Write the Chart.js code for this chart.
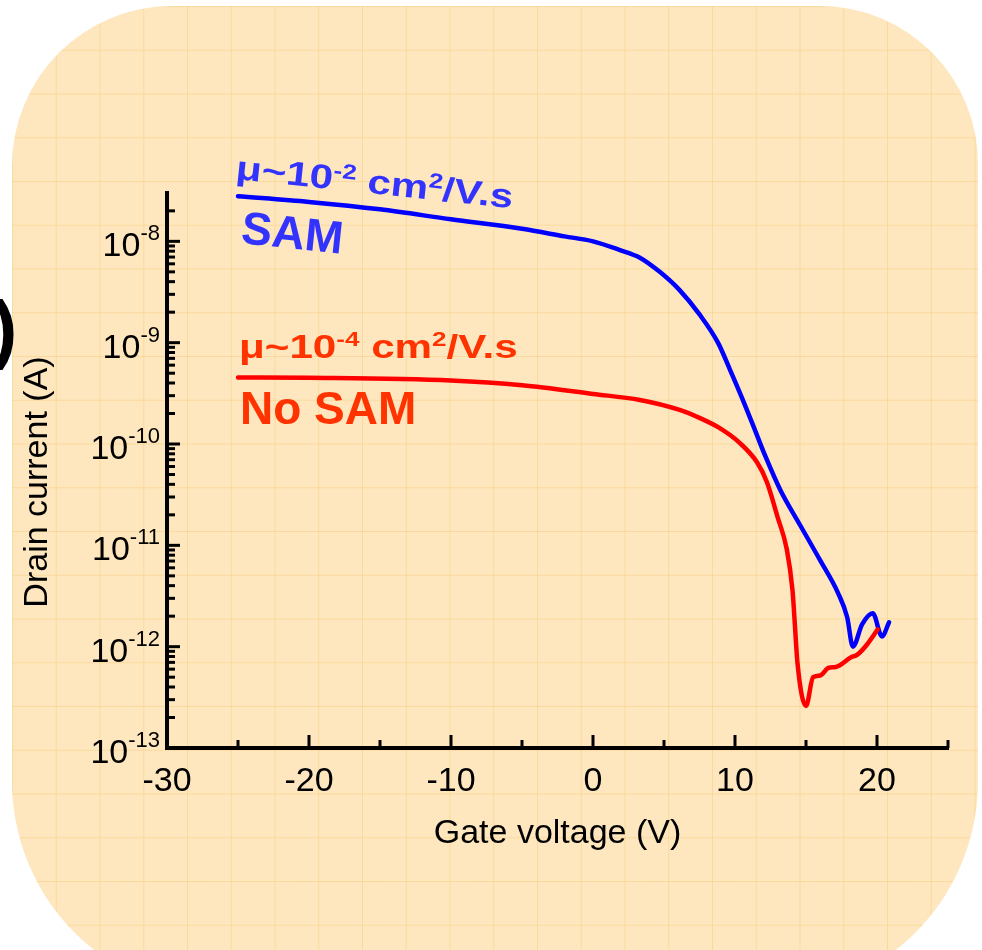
<!DOCTYPE html>
<html><head><meta charset="utf-8">
<script src="https://cdn.jsdelivr.net/npm/chart.js@4.4.1/dist/chart.umd.min.js"></script>
<style>
html,body{margin:0;padding:0;width:982px;height:950px;overflow:hidden;background:#fff;}
#bg{position:absolute;left:12px;top:6px;width:966px;height:990px;border-radius:160px 158px 215px 215px;
background-color:#FEE7BE;
background-image:linear-gradient(to right, rgba(245,200,110,0.42) 1px, transparent 1px), linear-gradient(to bottom, rgba(245,200,110,0.42) 1px, transparent 1px);
background-size:43.75px 43.75px;}
#c{position:absolute;left:0;top:0;}
</style></head><body>
<div id="bg"></div>
<canvas id="c" width="982" height="950"></canvas>
<script>
// ---- data ----
const gateVoltageSAM = [-25,-20,-15,-10,-5,-2,0,1.9,3.3,4.7,6.1,7.5,8.8,9.65,10.55,11.4,12.1,13.2,14.6,16.0,17.25,17.9,18.3,18.95,19.7,20.35,20.85];
const drainCurrentSAM = [2.79e-8,2.45e-8,2.07e-8,1.65e-8,1.33e-8,1.12e-8,1.0e-8,8.2e-9,6.9e-9,5.0e-9,3.3e-9,1.9e-9,1.0e-9,5.4e-10,2.73e-10,1.38e-10,7.8e-11,3.5e-11,1.57e-11,7.1e-12,3.4e-12,1.95e-12,1.0e-12,1.66e-12,2.14e-12,1.26e-12,1.74e-12];
const gateVoltageNoSAM = [-25,-20,-10,-5,0,3.3,6.1,7.5,8.9,10.35,11.55,12.25,13.0,13.65,14.05,14.2,14.4,15.0,15.5,16.0,16.6,17.1,18.2,18.6,19.3,20.05];
const drainCurrentNoSAM = [4.53e-10,4.5e-10,4.23e-10,3.8e-10,3.12e-10,2.72e-10,2.17e-10,1.81e-10,1.44e-10,1.02e-10,6.6e-11,4.2e-11,1.9e-11,9.1e-12,3.6e-12,1.8e-12,6.9e-13,2.6e-13,5.0e-13,5.2e-13,6.2e-13,6.3e-13,7.9e-13,8.3e-13,1.05e-12,1.48e-12];
const xMajorTicks = [-30,-20,-10,0,10,20];
const xMinorTicks = [-25,-15,-5,5,15,25];
const xTickLabels = ['-30','-20','-10','0','10','20'];
const yDecadeExponents = [-13,-12,-11,-10,-9,-8];
const yTickLabels = ['-13','-12','-11','-10','-9','-8'];
const yMinorMultipliers = [2,3,4,5,6,7,8,9];
const xTitle = 'Gate voltage (V)';
const yTitle = 'Drain current (A)';

const FONT = '"Liberation Sans", Arial, sans-serif';

function drawRich(ctx, parts, x, y, angle, sx, color, alignRight) {
  ctx.save();
  ctx.translate(x, y);
  ctx.rotate(angle);
  ctx.scale(sx, 1);
  ctx.fillStyle = color;
  ctx.textBaseline = 'alphabetic';
  ctx.textAlign = 'left';
  let total = 0;
  for (const p of parts) { ctx.font = p.font; total += ctx.measureText(p.t).width; }
  let cx = alignRight ? -total : 0;
  for (const p of parts) {
    ctx.font = p.font;
    ctx.fillText(p.t, cx, p.dy || 0);
    cx += ctx.measureText(p.t).width;
  }
  ctx.restore();
}

const decor = {
  id: 'decor',
  afterDraw(chart) {
    const ctx = chart.ctx, xs = chart.scales.x, ys = chart.scales.y, ca = chart.chartArea;
    ctx.save();
    ctx.strokeStyle = '#000';
    ctx.lineWidth = 3;
    const seg = (x1, y1, x2, y2) => { ctx.beginPath(); ctx.moveTo(x1, y1); ctx.lineTo(x2, y2); ctx.stroke(); };
    xMajorTicks.forEach(v => { const px = xs.getPixelForValue(v); seg(px, ca.bottom, px, ca.bottom - 13); });
    xMinorTicks.forEach(v => { const px = xs.getPixelForValue(v); seg(px, ca.bottom, px, ca.bottom - 8); });
    yDecadeExponents.forEach(e => {
      const py = ys.getPixelForValue(Math.pow(10, e));
      seg(ca.left, py, ca.left + 13, py);
      yMinorMultipliers.forEach(m => {
        const v = m * Math.pow(10, e);
        if (v <= ys.max) { const p2 = ys.getPixelForValue(v); seg(ca.left, p2, ca.left + 8, p2); }
      });
    });
    // tick labels
    ctx.fillStyle = '#000';
    ctx.font = '34px ' + FONT;
    ctx.textAlign = 'center';
    ctx.textBaseline = 'alphabetic';
    xMajorTicks.forEach((v, i) => { ctx.fillText(xTickLabels[i], xs.getPixelForValue(v), ca.bottom + 43); });
    yDecadeExponents.forEach((e, i) => {
      const py = ys.getPixelForValue(Math.pow(10, e));
      drawRich(ctx, [
        { t: '10', font: '34px ' + FONT },
        { t: yTickLabels[i], font: '22px ' + FONT, dy: -16 }
      ], ca.left - 7, py + 15, 0, 1, '#000', true);
    });
    // axis titles
    ctx.font = '34px ' + FONT;
    ctx.textAlign = 'center';
    ctx.fillText(xTitle, (ca.left + ca.right) / 2, ca.bottom + 95);
    ctx.save();
    ctx.translate(47, 482);
    ctx.rotate(-Math.PI / 2);
    ctx.fillText(yTitle, 0, 0);
    ctx.restore();
    // partial panel label at left edge
    ctx.font = 'bold 76px ' + FONT;
    ctx.textAlign = 'left';
    ctx.fillText(')', -8, 354);
    // annotations
    const ang = 6 * Math.PI / 180;
    const ax = xs.getPixelForValue(-25);
    const muParts = (exp) => [
      { t: 'μ~10', font: 'bold 34px ' + FONT },
      { t: exp, font: 'bold 21px ' + FONT, dy: -12 },
      { t: ' cm', font: 'bold 34px ' + FONT },
      { t: '2', font: 'bold 21px ' + FONT, dy: -12 },
      { t: '/V.s', font: 'bold 34px ' + FONT }
    ];
    drawRich(ctx, muParts('-2'), ax - 3, 179, ang, 1.24, '#3333FF');
    drawRich(ctx, [{ t: 'SAM', font: 'bold 46px ' + FONT }], ax + 2, 243, ang, 1, '#3333FF');
    drawRich(ctx, muParts('-4'), ax + 1, 358, 0, 1.24, '#FF3300');
    drawRich(ctx, [{ t: 'No SAM', font: 'bold 46px ' + FONT }], ax + 2, 424, 0, 1, '#FF3300');
    ctx.restore();
  }
};

const lineStyle = { borderWidth: 4.5, pointRadius: 0, fill: false, cubicInterpolationMode: 'monotone',
  borderCapStyle: 'round', borderJoinStyle: 'round' };

new Chart(document.getElementById('c'), {
  type: 'line',
  data: {
    datasets: [
      Object.assign({
        label: 'No SAM',
        data: gateVoltageNoSAM.map((v, i) => ({ x: v, y: drainCurrentNoSAM[i] })),
        borderColor: '#FF0000', order: 0
      }, lineStyle),
      Object.assign({
        label: 'SAM',
        data: gateVoltageSAM.map((v, i) => ({ x: v, y: drainCurrentSAM[i] })),
        borderColor: '#0000FF', order: 1
      }, lineStyle)
    ]
  },
  options: {
    responsive: false,
    animation: false,
    devicePixelRatio: 1,
    layout: { padding: { top: 193, right: 34, bottom: 0, left: 0 } },
    plugins: { legend: { display: false }, tooltip: { enabled: false } },
    scales: {
      x: {
        type: 'linear', min: -30, max: 25,
        grid: { display: false },
        border: { display: true, color: '#000', width: 4 },
        ticks: { display: false },
        afterFit(s) { s.height = 202; }
      },
      y: {
        type: 'logarithmic', min: 1e-13, max: 3e-8,
        grid: { display: false },
        border: { display: true, color: '#000', width: 4 },
        ticks: { display: false },
        afterFit(s) { s.width = 167; }
      }
    }
  },
  plugins: [decor]
});
</script></body></html>
